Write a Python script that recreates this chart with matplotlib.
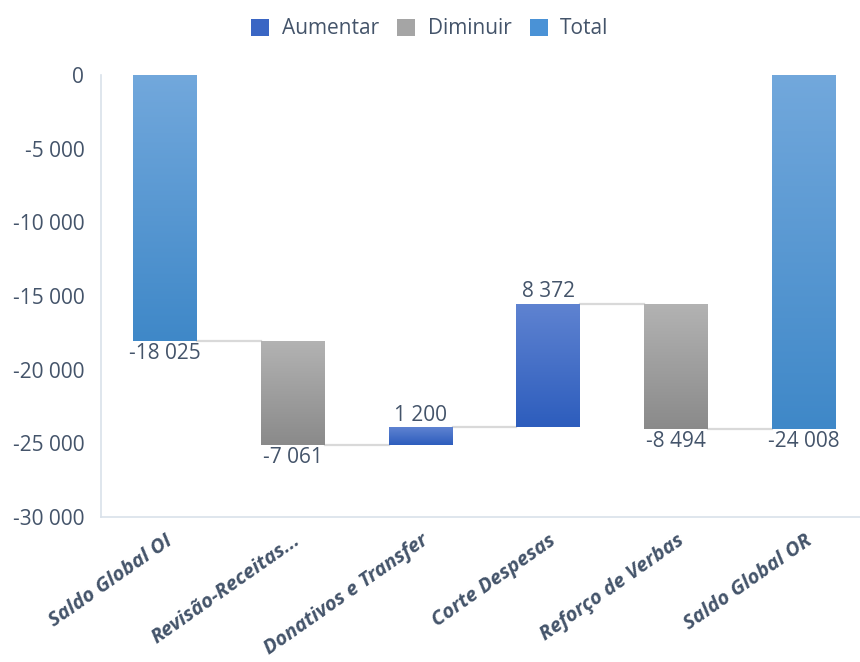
import matplotlib
matplotlib.use("Agg")
import matplotlib.pyplot as plt
import numpy as np
from matplotlib.colors import LinearSegmentedColormap
from matplotlib.patches import Patch

categories = ["Saldo Global OI", "Revisão-Receitas...", "Donativos e Transfer",
              "Corte Despesas", "Reforço de Verbas", "Saldo Global OR"]
values = [-18025, -7061, 1200, 8372, -8494, -24008]
kinds = ["Total", "Diminuir", "Aumentar", "Aumentar", "Diminuir", "Total"]
yticks = [0, -5000, -10000, -15000, -20000, -25000, -30000]
ytick_labels = ["0", "-5 000", "-10 000", "-15 000", "-20 000", "-25 000", "-30 000"]
legend_names = ["Aumentar", "Diminuir", "Total"]

grad = {
    "Total": ("#72A8DC", "#3F88C8"),
    "Diminuir": ("#B3B3B3", "#8A8A8A"),
    "Aumentar": ("#5F83D1", "#2D5DBD"),
}
solid = {"Total": "#4A92D6", "Diminuir": "#A5A5A5", "Aumentar": "#3A66C4"}

plt.rcParams['font.family'] = ['Open Sans', 'DejaVu Sans']
text_col = "#44546A"

fig = plt.figure(figsize=(8.6, 6.62), dpi=100)
ax = fig.add_axes([101/860, 1-517/662, (868-101)/860, (517-75)/662])

bottoms, heights = [], []
running = 0
for v, k in zip(values, kinds):
    if k == "Total":
        bottoms.append(0)
        heights.append(v)
        running = v
    else:
        bottoms.append(running)
        heights.append(v)
        running = running + v

x = np.arange(len(categories))
w = 0.5
bars = ax.bar(x, heights, bottom=bottoms, width=w, color="none", edgecolor="none", zorder=2)

for b, k in zip(bars, kinds):
    x0, y0 = b.get_x(), b.get_y()
    x1, y1 = x0 + b.get_width(), y0 + b.get_height()
    lo, hi = min(y0, y1), max(y0, y1)
    cmap = LinearSegmentedColormap.from_list("g", [grad[k][1], grad[k][0]])
    g = np.linspace(0, 1, 256).reshape(-1, 1)
    im = ax.imshow(g, cmap=cmap, origin="lower", aspect="auto",
                   extent=[x0, x1, lo, hi], zorder=2, interpolation="bicubic")
    im.set_clip_path(b)

ends = []
running = 0
for v, k in zip(values, kinds):
    running = v if k == "Total" else running + v
    ends.append(running)
for i in range(len(values) - 1):
    ax.plot([x[i] + w/2, x[i+1] - w/2], [ends[i], ends[i]], color="#D9D9D9", lw=1.6, zorder=1)

for i, (v, k) in enumerate(zip(values, kinds)):
    lab = f"{v:,}".replace(",", " ")
    if k == "Aumentar":
        ax.annotate(lab, (x[i], ends[i]), xytext=(0, 1), textcoords="offset points",
                    ha="center", va="bottom", fontsize=15, color=text_col)
    else:
        y = min(bottoms[i], bottoms[i] + heights[i])
        ax.annotate(lab, (x[i], y), xytext=(0, -2), textcoords="offset points",
                    ha="center", va="top", fontsize=15, color=text_col)

ax.set_xlim(-0.5, len(categories) - 0.5)
ax.set_ylim(-30000, 0)
ax.set_yticks(yticks)
ax.set_yticklabels(ytick_labels, fontsize=15, color=text_col)
ax.set_xticks(x)
ax.set_xticklabels(categories, rotation=35, ha="right", rotation_mode="anchor",
                   fontsize=14.5, fontweight="bold", fontstyle="italic", color=text_col)
ax.tick_params(axis="y", length=0, pad=12)
ax.tick_params(axis="x", length=0, pad=10)
for s in ["top", "right"]:
    ax.spines[s].set_visible(False)
for s in ["left", "bottom"]:
    ax.spines[s].set_color("#D9E1EA")
    ax.spines[s].set_linewidth(1.2)

handles = [Patch(facecolor=solid[n], edgecolor="none") for n in legend_names]
fig.legend(handles, legend_names, loc="center", bbox_to_anchor=(0.5, 1-29/662), ncol=3,
           frameon=False, fontsize=15, labelcolor=text_col, handlelength=0.85,
           handleheight=0.85, columnspacing=0.9, handletextpad=0.6)

fig.savefig("out.png", dpi=100)
